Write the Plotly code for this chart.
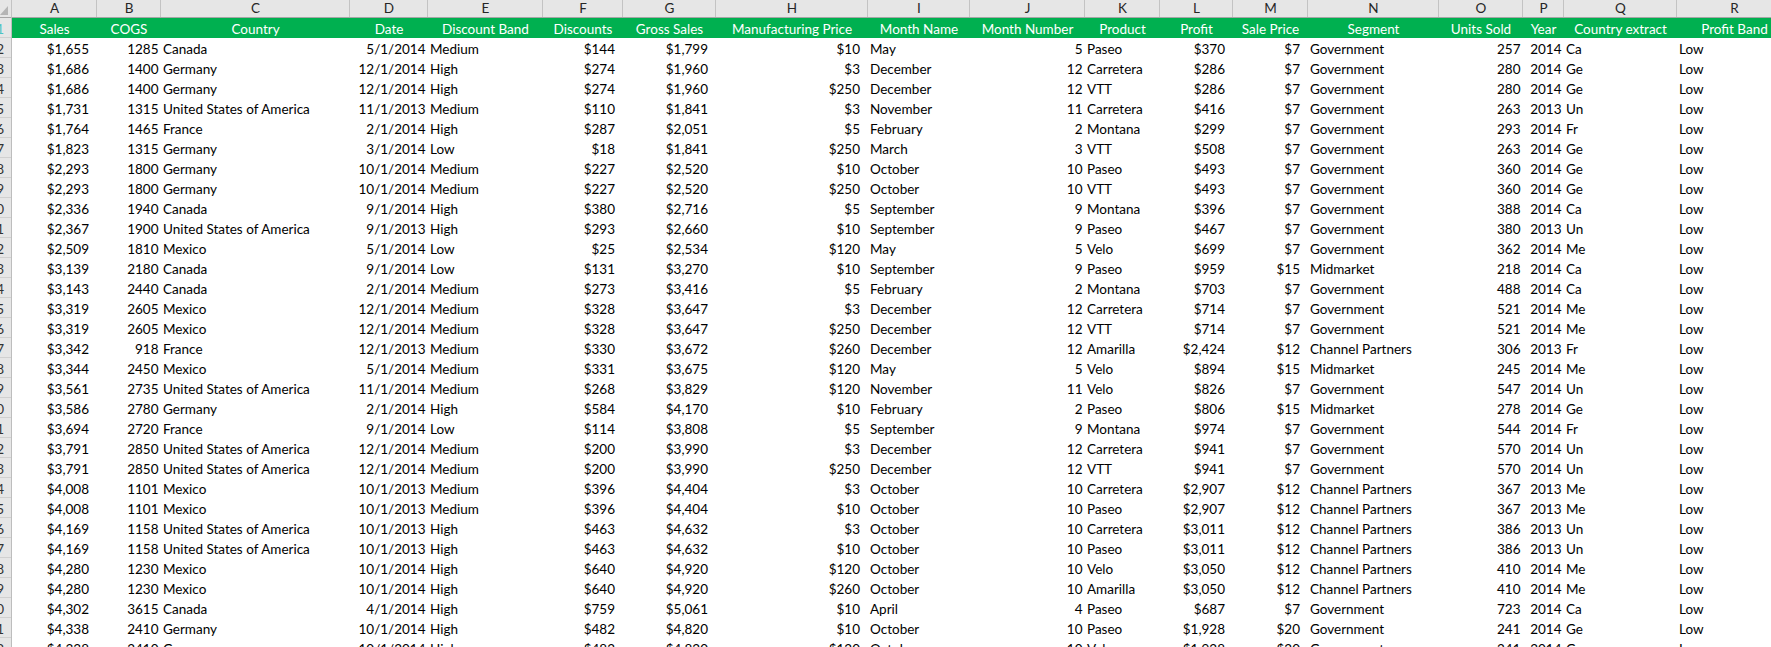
import plotly.graph_objects as go

# ------------------------------------------------------------------ data
column_letters = ["A", "B", "C", "D", "E", "F", "G", "H", "I", "J",
                  "K", "L", "M", "N", "O", "P", "Q", "R"]
headers = ["Sales", "COGS", "Country", "Date", "Discount Band", "Discounts",
           "Gross Sales", "Manufacturing Price", "Month Name", "Month Number",
           "Product", "Profit", "Sale Price", "Segment", "Units Sold", "Year",
           "Country extract", "Profit Band"]
row_numbers = [1, 2, 3, 4, 5, 6, 7, 8, 9, 10, 11, 12, 13, 14, 15, 16, 17, 18,
               19, 20, 21, 22, 23, 24, 25, 26, 27, 28, 29, 30, 31, 32]

sales = [1655, 1686, 1686, 1731, 1764, 1823, 2293, 2293, 2336, 2367, 2509,
         3139, 3143, 3319, 3319, 3342, 3344, 3561, 3586, 3694, 3791, 3791,
         4008, 4008, 4169, 4169, 4280, 4280, 4302, 4338, 4338]
cogs = [1285, 1400, 1400, 1315, 1465, 1315, 1800, 1800, 1940, 1900, 1810,
        2180, 2440, 2605, 2605, 918, 2450, 2735, 2780, 2720, 2850, 2850,
        1101, 1101, 1158, 1158, 1230, 1230, 3615, 2410, 2410]
country = ["Canada", "Germany", "Germany", "United States of America", "France",
           "Germany", "Germany", "Germany", "Canada", "United States of America",
           "Mexico", "Canada", "Canada", "Mexico", "Mexico", "France", "Mexico",
           "United States of America", "Germany", "France",
           "United States of America", "United States of America", "Mexico",
           "Mexico", "United States of America", "United States of America",
           "Mexico", "Mexico", "Canada", "Germany", "Germany"]
date = ["5/1/2014", "12/1/2014", "12/1/2014", "11/1/2013", "2/1/2014",
        "3/1/2014", "10/1/2014", "10/1/2014", "9/1/2014", "9/1/2013",
        "5/1/2014", "9/1/2014", "2/1/2014", "12/1/2014", "12/1/2014",
        "12/1/2013", "5/1/2014", "11/1/2014", "2/1/2014", "9/1/2014",
        "12/1/2014", "12/1/2014", "10/1/2013", "10/1/2013", "10/1/2013",
        "10/1/2013", "10/1/2014", "10/1/2014", "4/1/2014", "10/1/2014",
        "10/1/2014"]
discount_band = ["Medium", "High", "High", "Medium", "High", "Low", "Medium",
                 "Medium", "High", "High", "Low", "Low", "Medium", "Medium",
                 "Medium", "Medium", "Medium", "Medium", "High", "Low",
                 "Medium", "Medium", "Medium", "Medium", "High", "High",
                 "High", "High", "High", "High", "High"]
discounts = [144, 274, 274, 110, 287, 18, 227, 227, 380, 293, 25, 131, 273,
             328, 328, 330, 331, 268, 584, 114, 200, 200, 396, 396, 463, 463,
             640, 640, 759, 482, 482]
gross_sales = [1799, 1960, 1960, 1841, 2051, 1841, 2520, 2520, 2716, 2660,
               2534, 3270, 3416, 3647, 3647, 3672, 3675, 3829, 4170, 3808,
               3990, 3990, 4404, 4404, 4632, 4632, 4920, 4920, 5061, 4820, 4820]
manufacturing_price = [10, 3, 250, 3, 5, 250, 10, 250, 5, 10, 120, 10, 5, 3,
                       250, 260, 120, 120, 10, 5, 3, 250, 3, 10, 3, 10, 120,
                       260, 10, 10, 120]
month_name = ["May", "December", "December", "November", "February", "March",
              "October", "October", "September", "September", "May",
              "September", "February", "December", "December", "December",
              "May", "November", "February", "September", "December",
              "December", "October", "October", "October", "October",
              "October", "October", "April", "October", "October"]
month_number = [5, 12, 12, 11, 2, 3, 10, 10, 9, 9, 5, 9, 2, 12, 12, 12, 5, 11,
                2, 9, 12, 12, 10, 10, 10, 10, 10, 10, 4, 10, 10]
product = ["Paseo", "Carretera", "VTT", "Carretera", "Montana", "VTT", "Paseo",
           "VTT", "Montana", "Paseo", "Velo", "Paseo", "Montana", "Carretera",
           "VTT", "Amarilla", "Velo", "Velo", "Paseo", "Montana", "Carretera",
           "VTT", "Carretera", "Paseo", "Carretera", "Paseo", "Velo",
           "Amarilla", "Paseo", "Paseo", "Velo"]
profit = [370, 286, 286, 416, 299, 508, 493, 493, 396, 467, 699, 959, 703, 714,
          714, 2424, 894, 826, 806, 974, 941, 941, 2907, 2907, 3011, 3011,
          3050, 3050, 687, 1928, 1928]
sale_price = [7, 7, 7, 7, 7, 7, 7, 7, 7, 7, 7, 15, 7, 7, 7, 12, 15, 7, 15, 7,
              7, 7, 12, 12, 12, 12, 12, 12, 7, 20, 20]
segment = ["Government", "Government", "Government", "Government",
           "Government", "Government", "Government", "Government",
           "Government", "Government", "Government", "Midmarket",
           "Government", "Government", "Government", "Channel Partners",
           "Midmarket", "Government", "Midmarket", "Government", "Government",
           "Government", "Channel Partners", "Channel Partners",
           "Channel Partners", "Channel Partners", "Channel Partners",
           "Channel Partners", "Government", "Government", "Government"]
units_sold = [257, 280, 280, 263, 293, 263, 360, 360, 388, 380, 362, 218, 488,
              521, 521, 306, 245, 547, 278, 544, 570, 570, 367, 367, 386, 386,
              410, 410, 723, 241, 241]
year = [2014, 2014, 2014, 2013, 2014, 2014, 2014, 2014, 2014, 2013, 2014, 2014,
        2014, 2014, 2014, 2013, 2014, 2014, 2014, 2014, 2014, 2014, 2013, 2013,
        2013, 2013, 2014, 2014, 2014, 2014, 2014]
country_extract = ["Ca", "Ge", "Ge", "Un", "Fr", "Ge", "Ge", "Ge", "Ca", "Un",
                   "Me", "Ca", "Ca", "Me", "Me", "Fr", "Me", "Un", "Ge", "Fr",
                   "Un", "Un", "Me", "Me", "Un", "Un", "Me", "Me", "Ca", "Ge",
                   "Ge"]
profit_band = ["Low", "Low", "Low", "Low", "Low", "Low", "Low", "Low", "Low",
               "Low", "Low", "Low", "Low", "Low", "Low", "Low", "Low", "Low",
               "Low", "Low", "Low", "Low", "Low", "Low", "Low", "Low", "Low",
               "Low", "Low", "Low", "Low"]

# ------------------------------------------------------------------ layout / style
W, H = 1771, 647
EDGES = [12, 97, 161, 350, 428, 543, 623, 716, 868, 970, 1085, 1160, 1233,
         1308, 1439, 1523, 1564, 1677, 1792]
LETTER_ROW_H = 17
HEAD_TOP = 18
FIRST_TOP = 38
ROW_H = 20
FS = 13.5
FONT = "Lato, Carlito, Calibri, sans-serif"
GREEN = "#00B050"
HDR_BG = "#E6E6E6"
BASE = 16  # baseline offset inside a row


def text_y(top):
    # scatter 'middle' text: baseline sits 0.25*size below the point
    return top + BASE - 0.25 * FS


def cur(v):
    return ["${:,}".format(x) for x in v]


def num(v):
    return [str(x) for x in v]


columns = [
    (cur(sales), "cur"), (num(cogs), "num"), (country, "txt"),
    (date, "num"), (discount_band, "txt"), (cur(discounts), "cur"),
    (cur(gross_sales), "cur"), (cur(manufacturing_price), "cur"),
    (month_name, "txt"), (num(month_number), "num"), (product, "txt"),
    (cur(profit), "cur"), (cur(sale_price), "cur"), (segment, "txt"),
    (num(units_sold), "num"), (num(year), "num"), (country_extract, "txt"),
    (profit_band, "txt"),
]

fig = go.Figure()

n_rows = len(sales)
data_y = [text_y(FIRST_TOP + ROW_H * i) for i in range(n_rows)]

for ci, (vals, kind) in enumerate(columns):
    left, right = EDGES[ci], EDGES[ci + 1]
    if kind == "txt":
        x0, pos = left + 2, "middle right"
    elif kind == "num":
        x0, pos = right - 2.5, "middle left"
    else:
        x0, pos = right - 8, "middle left"
    fig.add_trace(go.Scatter(
        x=[x0] * n_rows, y=data_y, mode="text", text=vals,
        textposition=pos, cliponaxis=True, hoverinfo="skip",
        textfont=dict(family=FONT, size=FS, color="#000000"),
    ))

centers = [(EDGES[i] + EDGES[i + 1]) / 2 for i in range(len(headers))]

# green header row
fig.add_trace(go.Scatter(
    x=centers, y=[text_y(HEAD_TOP)] * len(headers), mode="text", text=headers,
    textposition="middle center", cliponaxis=True, hoverinfo="skip",
    textfont=dict(family=FONT, size=FS, color="#FFFFFF"),
))

# column letters
fig.add_trace(go.Scatter(
    x=centers, y=[LETTER_ROW_H - 3.7 - 0.25 * FS] * len(column_letters),
    mode="text", text=column_letters, textposition="middle center",
    cliponaxis=True, hoverinfo="skip",
    textfont=dict(family=FONT, size=FS, color="#262626"),
))

# row numbers (only the tail of each number is visible at the left edge)
row_tops = [HEAD_TOP] + [FIRST_TOP + ROW_H * i for i in range(len(row_numbers) - 1)]
fig.add_trace(go.Scatter(
    x=[4] * len(row_numbers), y=[text_y(t) for t in row_tops], mode="text",
    text=[str(r) for r in row_numbers], textposition="middle left",
    cliponaxis=True, hoverinfo="skip",
    textfont=dict(family=FONT, size=FS,
                  color=["#4cc3c3"] + ["#333333"] * (len(row_numbers) - 1)),
))

shapes = []
# column-letter bar
shapes.append(dict(type="rect", x0=0, x1=W, y0=0, y1=LETTER_ROW_H + 1,
                   fillcolor=HDR_BG, line=dict(width=0), layer="below"))
# row-number strip
shapes.append(dict(type="rect", x0=0, x1=EDGES[0], y0=0, y1=H,
                   fillcolor=HDR_BG, line=dict(width=0), layer="below"))
# green header band
shapes.append(dict(type="rect", x0=EDGES[0], x1=W, y0=HEAD_TOP, y1=FIRST_TOP,
                   fillcolor=GREEN, line=dict(width=0), layer="below"))
# separators in the letter bar
for e in EDGES[:-1]:
    shapes.append(dict(type="line", x0=e - 0.5, x1=e - 0.5, y0=0, y1=LETTER_ROW_H,
                       line=dict(color="#C3C3C3", width=1)))
# bottom border of the letter bar
shapes.append(dict(type="line", x0=0, x1=W, y0=LETTER_ROW_H + 0.5,
                   y1=LETTER_ROW_H + 0.5, line=dict(color="#A6A6A6", width=1)))
# right border of row strip
shapes.append(dict(type="line", x0=EDGES[0] - 0.5, x1=EDGES[0] - 0.5,
                   y0=LETTER_ROW_H, y1=H, line=dict(color="#BDBDBD", width=1)))
# row separators inside the strip
for t in [FIRST_TOP + ROW_H * i for i in range(len(row_numbers))]:
    shapes.append(dict(type="line", x0=0, x1=EDGES[0] - 1, y0=t - 0.5, y1=t - 0.5,
                       line=dict(color="#D0D0D0", width=1)))
# select-all triangle in the corner
shapes.append(dict(type="path", path="M 0 15 L 8 15 L 8 6 Z",
                   fillcolor="#B5B5B5", line=dict(width=0)))

fig.update_layout(
    width=W, height=H,
    margin=dict(l=0, r=0, t=0, b=0, pad=0),
    paper_bgcolor="#FFFFFF", plot_bgcolor="#FFFFFF",
    showlegend=False, hovermode=False,
    xaxis=dict(range=[0, W], visible=False, fixedrange=True),
    yaxis=dict(range=[H, 0], visible=False, fixedrange=True),
    shapes=shapes,
)

fig.write_html(
    "out.html",
    config={"displayModeBar": False, "staticPlot": True},
    post_script="document.body.style.margin='0px';document.body.style.overflow='hidden';",
)
